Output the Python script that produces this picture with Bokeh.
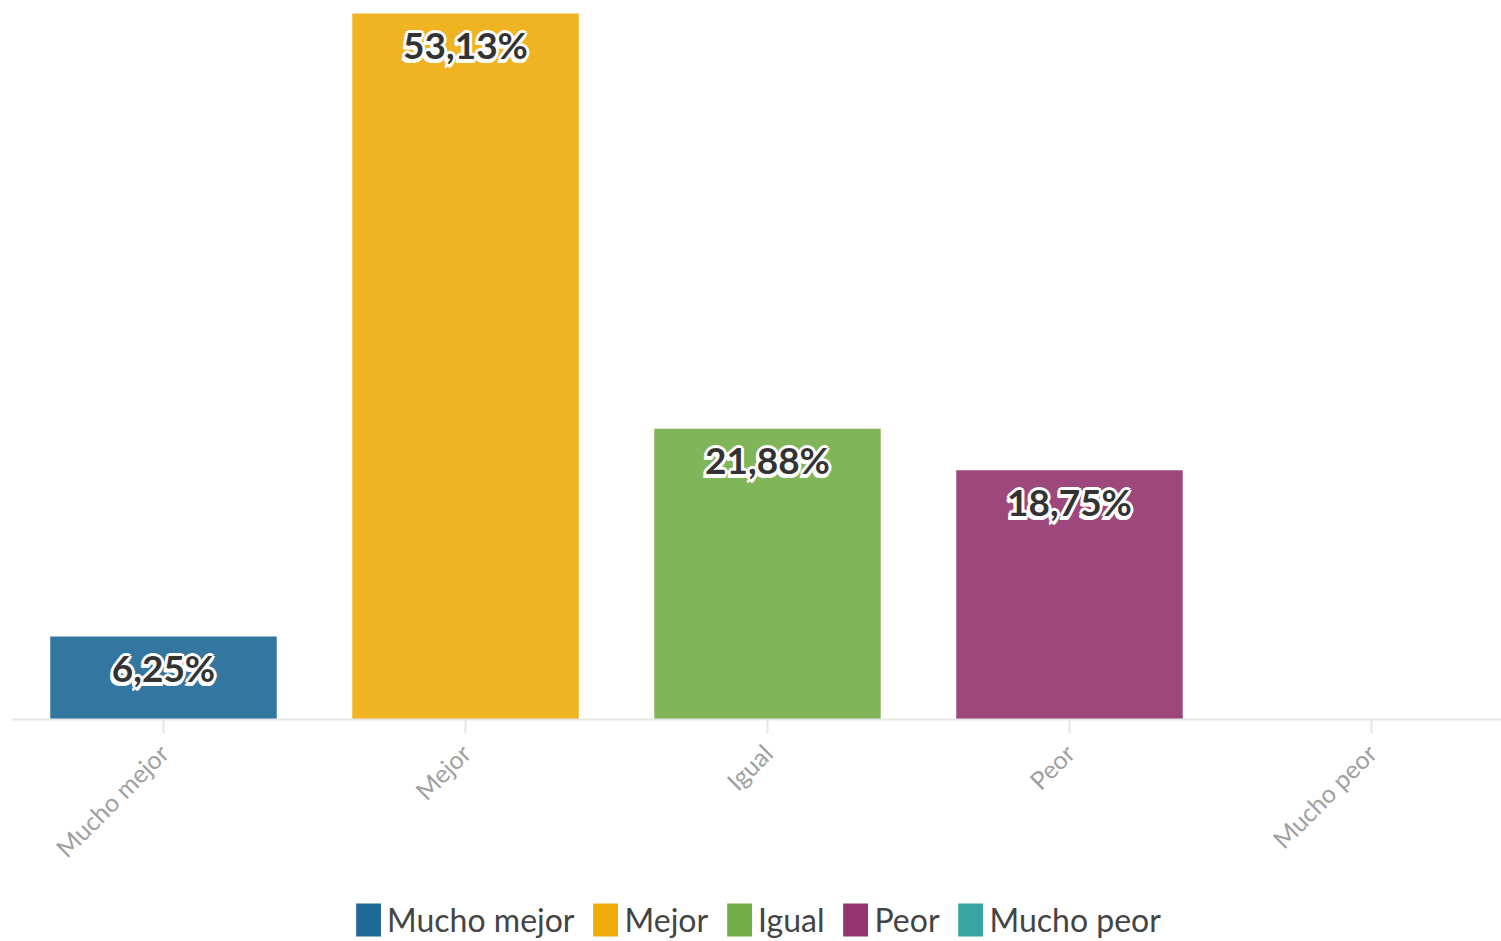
from bokeh.plotting import figure
from bokeh.models import Range1d, ColumnDataSource, Legend, LegendItem, FixedTicker
from bokeh.layouts import column
from bokeh.embed import file_html
from bokeh.resources import INLINE
from bokeh.core.properties import value
import math

categories = ["Mucho mejor", "Mejor", "Igual", "Peor", "Mucho peor"]
values = [6.25, 53.13, 21.88, 18.75, 0.0]
colors = ["#1d6896", "#eeab0a", "#73ad47", "#94336f", "#39a5a3"]
labels = ["6,25%", "53,13%", "21,88%", "18,75%", ""]

xs = [i + 0.5 for i in range(len(categories))]
src = ColumnDataSource(dict(x=xs, top=values, color=colors, cat=categories, lab=labels))

FONT = "Lato"
p = figure(frame_width=1489, frame_height=711, output_backend="svg", toolbar_location=None,
           x_range=Range1d(0, 1489 / 302), y_range=Range1d(0, 53.5),
           min_border_left=12, min_border_right=0, min_border_top=8, min_border_bottom=0)
p.outline_line_color = None
p.grid.visible = False
p.yaxis.visible = False

bars = p.vbar(x="x", top="top", width=0.75, color="color", fill_alpha=0.9, line_alpha=0, source=src)

tsrc = ColumnDataSource(dict(x=xs[:4], y=values[:4], lab=labels[:4]))
common = dict(x="x", y="y", text="lab", source=tsrc, text_align="center", text_baseline="middle",
              text_font=value(FONT), text_font_style="bold", text_font_size="37px")
for dx, dy in [(-3, 0), (3, 0), (0, -3), (0, 3), (-2, -2), (2, 2), (-2, 2), (2, -2), (1, 4), (-3, 3), (-3, 4)]:
    p.text(x_offset=dx, y_offset=31 + dy, text_color="white", **common)
p.text(y_offset=31, text_color="#333333", **common)

ax = p.xaxis[0]
ax.ticker = FixedTicker(ticks=xs)
ax.major_label_overrides = {x: c for x, c in zip(xs, categories)}
ax.major_label_orientation = math.pi / 4
ax.axis_line_color = "#e6e6e6"
ax.axis_line_width = 2
ax.major_tick_line_color = "#e6e6e6"
ax.major_tick_line_width = 2
ax.major_tick_out = 14
ax.major_tick_in = 0
ax.minor_tick_line_color = None
ax.major_label_text_color = "#a0a0a0"
ax.major_label_text_font = FONT
ax.major_label_text_font_size = "25px"
ax.major_label_standoff = 15

# legend in its own strip below the chart
lf = figure(width=1501, height=64, output_backend="svg", toolbar_location=None,
            x_range=Range1d(0, 1), y_range=Range1d(0, 1),
            min_border=0)
lf.outline_line_color = None
lf.axis.visible = False
lf.grid.visible = False
leg_r = lf.vbar(x="x", top=0, bottom=0, width=0.0, color="color", fill_alpha=1, line_alpha=0, source=src)
items = [LegendItem(label=c, renderers=[leg_r], index=i) for i, c in enumerate(categories)]
legend = Legend(items=items, orientation="horizontal", location="bottom",
                label_text_font=FONT, label_text_font_size="32px", label_text_color="#444444",
                glyph_width=31, glyph_height=41, label_standoff=4, spacing=15,
                border_line_color=None, background_fill_alpha=0, padding=0, margin=0)
lf.add_layout(legend, "center")

layout = column(p, lf, spacing=0)
open("out.html", "w").write(file_html(layout, INLINE))
